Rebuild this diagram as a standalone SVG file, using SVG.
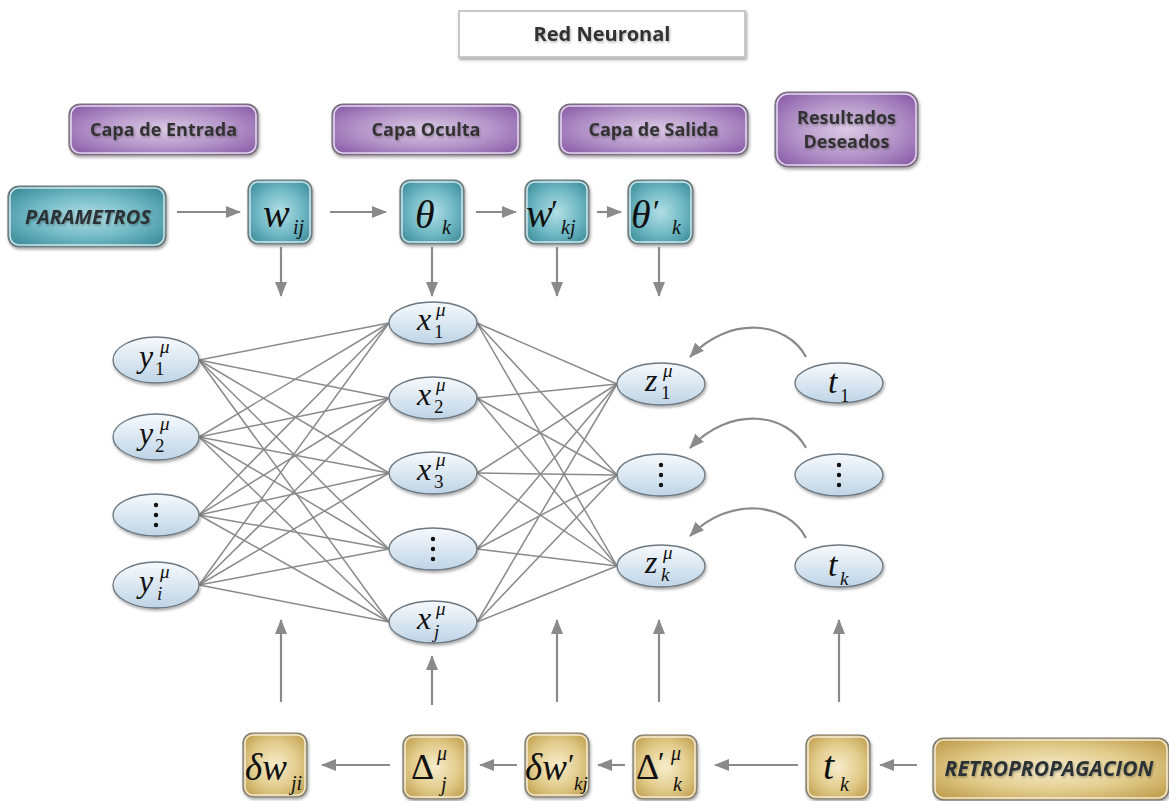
<svg xmlns="http://www.w3.org/2000/svg" width="1169" height="801" viewBox="0 0 1169 801">
<defs>
<style>
.hdr{font-family:"Open Sans","Liberation Sans",sans-serif;font-weight:bold;font-size:18px;fill:#333;text-anchor:middle}
.lbl{font-family:"Open Sans","Liberation Sans",sans-serif;font-weight:bold;font-style:italic;font-size:20px;fill:#2b3236;text-anchor:middle}
.m{font-family:"Liberation Serif","Times New Roman",serif;font-style:italic;fill:#111}
.n{font-family:"Liberation Serif","Times New Roman",serif;fill:#111}
.teal{fill:url(#gTeal);stroke:#777;stroke-width:1.2}
.purp{fill:url(#gPurp);stroke:#777;stroke-width:1.2}
.gold{fill:url(#gGold);stroke:#777;stroke-width:1.2}
.inner{fill:none;stroke:#fff;stroke-opacity:0.75;stroke-width:1.5}
.ell{fill:url(#gEll);stroke:#6d7880;stroke-width:1.3}
.con line{stroke:#8a8a8a;stroke-width:1.5}
.arr{stroke:#8a8a8a;stroke-width:2.2;fill:none}
.dot{fill:#111}
</style>
<radialGradient id="gTeal" cx="50%" cy="50%" r="65%">
<stop offset="0" stop-color="#b2dfe5"/><stop offset="0.55" stop-color="#6fb8c4"/><stop offset="1" stop-color="#3b8a98"/>
</radialGradient>
<radialGradient id="gPurp" cx="50%" cy="50%" r="65%">
<stop offset="0" stop-color="#dccbe6"/><stop offset="0.55" stop-color="#b394c8"/><stop offset="1" stop-color="#8a5ca8"/>
</radialGradient>
<radialGradient id="gGold" cx="50%" cy="50%" r="65%">
<stop offset="0" stop-color="#f7eccb"/><stop offset="0.55" stop-color="#e2cc8c"/><stop offset="1" stop-color="#bf9d4c"/>
</radialGradient>
<linearGradient id="gEll" x1="0" y1="0" x2="0" y2="1">
<stop offset="0" stop-color="#f7fafd"/><stop offset="1" stop-color="#bed4e6"/>
</linearGradient>
<filter id="sh" x="-20%" y="-20%" width="140%" height="150%">
<feDropShadow dx="1" dy="2" stdDeviation="1.6" flood-color="#000" flood-opacity="0.35"/>
</filter>
<filter id="tsh" x="-10%" y="-20%" width="120%" height="160%">
<feDropShadow dx="1" dy="1.5" stdDeviation="1" flood-color="#000" flood-opacity="0.3"/>
</filter>
<marker id="ah" markerUnits="userSpaceOnUse" markerWidth="15" markerHeight="12" refX="14" refY="6" orient="auto">
<path d="M0,0 L15,6 L0,12 z" fill="#8a8a8a"/>
</marker>
</defs>
<rect width="1169" height="801" fill="#fff"/>

<g id="title">
<rect x="459" y="11" width="286" height="46" fill="#fff" stroke="#c8c8c8" stroke-width="2" filter="url(#sh)"/>
<text x="602" y="41" class="hdr" style="font-size:20px" filter="url(#tsh)">Red Neuronal</text>
</g>

<g id="capa-entrada">
<rect x="69" y="104" width="189" height="51" rx="11" class="purp" filter="url(#sh)"/>
<rect x="71" y="106" width="185" height="47" rx="9" class="inner"/>
<text x="163.5" y="136" class="hdr" filter="url(#tsh)">Capa de Entrada</text>
</g>
<g id="capa-oculta">
<rect x="332" y="104" width="188" height="51" rx="11" class="purp" filter="url(#sh)"/>
<rect x="334" y="106" width="184" height="47" rx="9" class="inner"/>
<text x="426" y="136" class="hdr" filter="url(#tsh)">Capa Oculta</text>
</g>
<g id="capa-salida">
<rect x="559" y="104" width="189" height="51" rx="11" class="purp" filter="url(#sh)"/>
<rect x="561" y="106" width="185" height="47" rx="9" class="inner"/>
<text x="653.5" y="136" class="hdr" filter="url(#tsh)">Capa de Salida</text>
</g>
<g id="resultados">
<rect x="775" y="92" width="143" height="75" rx="13" class="purp" filter="url(#sh)"/>
<rect x="777" y="94" width="139" height="71" rx="11" class="inner"/>
<text x="846.5" y="124" class="hdr" filter="url(#tsh)">Resultados</text>
<text x="846.5" y="148" class="hdr" filter="url(#tsh)">Deseados</text>
</g>

<g id="parametros">
<rect x="8" y="186" width="158" height="61" rx="11" class="teal" filter="url(#sh)"/>
<rect x="10" y="188" width="154" height="57" rx="9" class="inner"/>
<text x="88" y="224" class="lbl" filter="url(#tsh)">PARAMETROS</text>
</g>
<g id="w-ij">
<rect x="248" y="180" width="64" height="64" rx="10" class="teal" filter="url(#sh)"/>
<rect x="250" y="182" width="60" height="60" rx="8" class="inner"/>
<text x="263" y="227" class="m" font-size="40">w</text><text x="293" y="234" class="m" font-size="20">ij</text>
</g>
<g id="theta-k">
<rect x="400" y="180" width="64" height="64" rx="10" class="teal" filter="url(#sh)"/>
<rect x="402" y="182" width="60" height="60" rx="8" class="inner"/>
<text x="415" y="228" class="m" font-size="40">θ</text><text x="442" y="234" class="m" font-size="20">k</text>
</g>
<g id="w-prime-kj">
<rect x="525" y="180" width="64" height="64" rx="10" class="teal" filter="url(#sh)"/>
<rect x="527" y="182" width="60" height="60" rx="8" class="inner"/>
<text x="526" y="227" class="m" font-size="40">w</text><text x="551" y="222" class="n" font-size="32">′</text><text x="561" y="234" class="m" font-size="20">kj</text>
</g>
<g id="theta-prime-k">
<rect x="628" y="180" width="65" height="64" rx="10" class="teal" filter="url(#sh)"/>
<rect x="630" y="182" width="61" height="60" rx="8" class="inner"/>
<text x="631" y="228" class="m" font-size="40">θ</text><text x="653" y="222" class="n" font-size="32">′</text><text x="672" y="234" class="m" font-size="20">k</text>
</g>

<g id="connectors" class="con">
<line x1="199" y1="360" x2="389" y2="323"/><line x1="199" y1="360" x2="389" y2="398"/><line x1="199" y1="360" x2="389" y2="473"/><line x1="199" y1="360" x2="389" y2="549"/><line x1="199" y1="360" x2="389" y2="622"/>
<line x1="199" y1="437" x2="389" y2="323"/><line x1="199" y1="437" x2="389" y2="398"/><line x1="199" y1="437" x2="389" y2="473"/><line x1="199" y1="437" x2="389" y2="549"/><line x1="199" y1="437" x2="389" y2="622"/>
<line x1="199" y1="515" x2="389" y2="323"/><line x1="199" y1="515" x2="389" y2="398"/><line x1="199" y1="515" x2="389" y2="473"/><line x1="199" y1="515" x2="389" y2="549"/><line x1="199" y1="515" x2="389" y2="622"/>
<line x1="199" y1="585" x2="389" y2="323"/><line x1="199" y1="585" x2="389" y2="398"/><line x1="199" y1="585" x2="389" y2="473"/><line x1="199" y1="585" x2="389" y2="549"/><line x1="199" y1="585" x2="389" y2="622"/>
<line x1="477" y1="323" x2="617" y2="384"/><line x1="477" y1="323" x2="617" y2="475"/><line x1="477" y1="323" x2="617" y2="566"/>
<line x1="477" y1="398" x2="617" y2="384"/><line x1="477" y1="398" x2="617" y2="475"/><line x1="477" y1="398" x2="617" y2="566"/>
<line x1="477" y1="473" x2="617" y2="384"/><line x1="477" y1="473" x2="617" y2="475"/><line x1="477" y1="473" x2="617" y2="566"/>
<line x1="477" y1="549" x2="617" y2="384"/><line x1="477" y1="549" x2="617" y2="475"/><line x1="477" y1="549" x2="617" y2="566"/>
<line x1="477" y1="622" x2="617" y2="384"/><line x1="477" y1="622" x2="617" y2="475"/><line x1="477" y1="622" x2="617" y2="566"/>
<g class="arr">
<path d="M177 212 H240" marker-end="url(#ah)"/>
<path d="M330 212 H386" marker-end="url(#ah)"/>
<path d="M476 212 H516" marker-end="url(#ah)"/>
<path d="M597 212 H621" marker-end="url(#ah)"/>
<path d="M281 247 V296" marker-end="url(#ah)"/>
<path d="M432 247 V296" marker-end="url(#ah)"/>
<path d="M557 247 V296" marker-end="url(#ah)"/>
<path d="M659 247 V296" marker-end="url(#ah)"/>
<path d="M806 357 C788 322 730 314 690 357" marker-end="url(#ah)"/>
<path d="M806 448 C788 413 730 405 690 448" marker-end="url(#ah)"/>
<path d="M806 538 C788 503 730 495 690 536" marker-end="url(#ah)"/>
<path d="M281 702 V620" marker-end="url(#ah)"/>
<path d="M432 705 V656" marker-end="url(#ah)"/>
<path d="M557 702 V620" marker-end="url(#ah)"/>
<path d="M659 702 V620" marker-end="url(#ah)"/>
<path d="M839 702 V620" marker-end="url(#ah)"/>
<path d="M390 765 H322" marker-end="url(#ah)"/>
<path d="M517 765 H480" marker-end="url(#ah)"/>
<path d="M625 765 H598" marker-end="url(#ah)"/>
<path d="M798 765 H715" marker-end="url(#ah)"/>
<path d="M917 765 H880" marker-end="url(#ah)"/>
</g>
</g>

<g id="y1"><ellipse cx="156" cy="360" rx="43" ry="23" class="ell" filter="url(#sh)"/>
<text x="139" y="367" class="m" font-size="32">y</text><text x="160" y="353" class="m" font-size="19">μ</text><text x="155" y="375" class="n" font-size="19">1</text></g>
<g id="y2"><ellipse cx="156" cy="437" rx="43" ry="23" class="ell" filter="url(#sh)"/>
<text x="139" y="444" class="m" font-size="32">y</text><text x="160" y="430" class="m" font-size="19">μ</text><text x="155" y="452" class="n" font-size="19">2</text></g>
<g id="y-dots"><ellipse cx="156" cy="515" rx="43" ry="21" class="ell" filter="url(#sh)"/>
<circle cx="156" cy="505" r="2.2" class="dot"/><circle cx="156" cy="515" r="2.2" class="dot"/><circle cx="156" cy="525" r="2.2" class="dot"/></g>
<g id="yi"><ellipse cx="156" cy="585" rx="43" ry="23" class="ell" filter="url(#sh)"/>
<text x="139" y="592" class="m" font-size="32">y</text><text x="160" y="578" class="m" font-size="19">μ</text><text x="157" y="600" class="m" font-size="19">i</text></g>

<g id="x1"><ellipse cx="433" cy="323" rx="44" ry="21" class="ell" filter="url(#sh)"/>
<text x="417" y="330" class="m" font-size="32">x</text><text x="436" y="316" class="m" font-size="19">μ</text><text x="434" y="338" class="n" font-size="19">1</text></g>
<g id="x2"><ellipse cx="433" cy="398" rx="44" ry="21" class="ell" filter="url(#sh)"/>
<text x="417" y="405" class="m" font-size="32">x</text><text x="436" y="391" class="m" font-size="19">μ</text><text x="434" y="413" class="n" font-size="19">2</text></g>
<g id="x3"><ellipse cx="433" cy="473" rx="44" ry="21" class="ell" filter="url(#sh)"/>
<text x="417" y="480" class="m" font-size="32">x</text><text x="436" y="466" class="m" font-size="19">μ</text><text x="434" y="488" class="n" font-size="19">3</text></g>
<g id="x-dots"><ellipse cx="433" cy="549" rx="44" ry="21" class="ell" filter="url(#sh)"/>
<circle cx="433" cy="539" r="2.2" class="dot"/><circle cx="433" cy="549" r="2.2" class="dot"/><circle cx="433" cy="559" r="2.2" class="dot"/></g>
<g id="xj"><ellipse cx="433" cy="622" rx="44" ry="21" class="ell" filter="url(#sh)"/>
<text x="417" y="629" class="m" font-size="32">x</text><text x="436" y="615" class="m" font-size="19">μ</text><text x="434" y="638" class="m" font-size="19">j</text></g>

<g id="z1"><ellipse cx="661" cy="384" rx="44" ry="21" class="ell" filter="url(#sh)"/>
<text x="645" y="391" class="m" font-size="32">z</text><text x="663" y="377" class="m" font-size="19">μ</text><text x="661" y="399" class="n" font-size="19">1</text></g>
<g id="z-dots"><ellipse cx="661" cy="475" rx="44" ry="21" class="ell" filter="url(#sh)"/>
<circle cx="661" cy="465" r="2.2" class="dot"/><circle cx="661" cy="475" r="2.2" class="dot"/><circle cx="661" cy="485" r="2.2" class="dot"/></g>
<g id="zk"><ellipse cx="661" cy="566" rx="44" ry="21" class="ell" filter="url(#sh)"/>
<text x="645" y="573" class="m" font-size="32">z</text><text x="663" y="559" class="m" font-size="19">μ</text><text x="661" y="581" class="m" font-size="19">k</text></g>

<g id="t1"><ellipse cx="839" cy="383" rx="44" ry="20" class="ell" filter="url(#sh)"/>
<text x="828" y="393" class="m" font-size="34">t</text><text x="840" y="402" class="n" font-size="19">1</text></g>
<g id="t-dots"><ellipse cx="839" cy="475" rx="44" ry="21" class="ell" filter="url(#sh)"/>
<circle cx="839" cy="465" r="2.2" class="dot"/><circle cx="839" cy="475" r="2.2" class="dot"/><circle cx="839" cy="485" r="2.2" class="dot"/></g>
<g id="tk"><ellipse cx="839" cy="566" rx="44" ry="21" class="ell" filter="url(#sh)"/>
<text x="828" y="576" class="m" font-size="34">t</text><text x="840" y="585" class="m" font-size="19">k</text></g>

<g id="delta-w-ji">
<rect x="243" y="733" width="64" height="64" rx="10" class="gold" filter="url(#sh)"/>
<rect x="245" y="735" width="60" height="60" rx="8" class="inner"/>
<text x="245" y="780" class="m" font-size="37">δw</text><text x="291" y="790" class="m" font-size="20">ji</text>
</g>
<g id="Delta-j">
<rect x="403" y="735" width="64" height="64" rx="10" class="gold" filter="url(#sh)"/>
<rect x="405" y="737" width="60" height="60" rx="8" class="inner"/>
<text x="411" y="779" class="n" font-size="36">Δ</text><text x="437" y="760" class="m" font-size="20">μ</text><text x="441" y="791" class="m" font-size="20">j</text>
</g>
<g id="delta-w-prime-kj">
<rect x="525" y="733" width="64" height="64" rx="10" class="gold" filter="url(#sh)"/>
<rect x="527" y="735" width="60" height="60" rx="8" class="inner"/>
<text x="525" y="780" class="m" font-size="37">δw</text><text x="568" y="774" class="n" font-size="30">′</text><text x="574" y="790" class="m" font-size="19">kj</text>
</g>
<g id="Delta-prime-k">
<rect x="633" y="735" width="64" height="64" rx="10" class="gold" filter="url(#sh)"/>
<rect x="635" y="737" width="60" height="60" rx="8" class="inner"/>
<text x="636" y="779" class="n" font-size="36">Δ</text><text x="658" y="772" class="n" font-size="30">′</text><text x="671" y="760" class="m" font-size="20">μ</text><text x="673" y="791" class="m" font-size="20">k</text>
</g>
<g id="t-k-box">
<rect x="806" y="735" width="64" height="64" rx="10" class="gold" filter="url(#sh)"/>
<rect x="808" y="737" width="60" height="60" rx="8" class="inner"/>
<text x="823" y="779" class="m" font-size="40">t</text><text x="840" y="791" class="m" font-size="20">k</text>
</g>
<g id="retropropagacion">
<rect x="933" y="738" width="236" height="62" rx="11" class="gold" filter="url(#sh)"/>
<rect x="935" y="740" width="232" height="58" rx="9" class="inner"/>
<text x="1049" y="776" class="lbl" style="font-size:21px" filter="url(#tsh)">RETROPROPAGACION</text>
</g>
</svg>
